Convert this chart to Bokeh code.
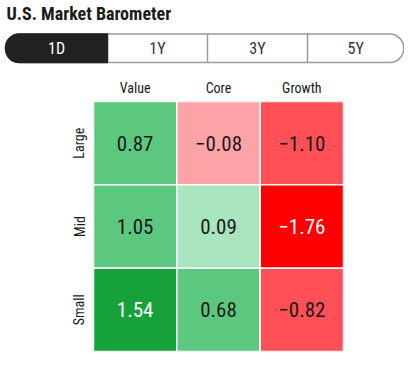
from bokeh.plotting import figure
from bokeh.layouts import column
from bokeh.models import Range1d, FactorRange, ColumnDataSource
from bokeh.core.properties import value
from bokeh.embed import file_html
from bokeh.resources import INLINE

FONT = "'Roboto Condensed', 'Archivo Narrow', Roboto, sans-serif"

title_text = "U.S. Market Barometer"
tabs = ["1D", "1Y", "3Y", "5Y"]
active_tab = "1D"

styles = ["Value", "Core", "Growth"]
sizes = ["Large", "Mid", "Small"]

# values[row][col]
values = [
    [0.87, -0.08, -1.10],
    [1.05, 0.09, -1.76],
    [1.54, 0.68, -0.82],
]
cell_colors = [
    ["#5cc77f", "#fda3a8", "#ff4f57"],
    ["#5cc77f", "#a8e4bd", "#ff0000"],
    ["#17a13a", "#5cc77f", "#ff4f57"],
]
text_colors = [
    ["#1a1a1a", "#1a1a1a", "#1a1a1a"],
    ["#1a1a1a", "#1a1a1a", "#ffffff"],
    ["#ffffff", "#1a1a1a", "#1a1a1a"],
]

W = 404
HH = 70

# ---------- header: title + tab bar ----------
hdr = figure(width=W, height=HH, x_range=Range1d(0, W), y_range=Range1d(HH, 0),
             output_backend="svg", toolbar_location=None, min_border=0)
hdr.axis.visible = False
hdr.grid.visible = False
hdr.outline_line_color = None
hdr.frame_align = False

hdr.text(x=[6], y=[13], text=[title_text], text_font=value(FONT),
         text_font_style="bold", text_font_size="18px", text_color="#1a1a1a",
         text_baseline="middle", text_align="left")

bar_top, bar_bot = 33.5, 62
n = len(tabs)
edges = [5, 107, 207, 307, W - 0.75]
lefts = edges[:-1]
rights = edges[1:]
centers = [(l + r) / 2 for l, r in zip(lefts, rights)]

# outer pill
hdr.quad(left=[edges[0]], right=[edges[-1]], top=[bar_top], bottom=[bar_bot],
         fill_color="white", line_color="#9a9a9a", line_width=1.5,
         border_radius=14)
# active segment
ai = tabs.index(active_tab)
hdr.quad(left=[lefts[ai]], right=[rights[ai]], top=[bar_top], bottom=[bar_bot],
         fill_color="#222222", line_color="#222222", line_width=1.5,
         border_radius=(14, 0, 0, 14))
# dividers
hdr.segment(x0=edges[2:-1], x1=edges[2:-1], y0=[bar_top] * (n - 2), y1=[bar_bot] * (n - 2),
            line_color="#9a9a9a", line_width=1.5)
hdr.text(x=centers, y=[(bar_top + bar_bot) / 2 + 0.5] * n, text=tabs,
         text_color=["white" if t == active_tab else "#333333" for t in tabs],
         text_font=value(FONT), text_font_size="16px",
         text_align="center", text_baseline="middle")

# ---------- heat map ----------
xs, ys, cols, txts, tcols = [], [], [], [], []
for ri, r in enumerate(sizes):
    for ci, c in enumerate(styles):
        xs.append(c)
        ys.append(r)
        cols.append(cell_colors[ri][ci])
        v = values[ri][ci]
        txts.append(("\u2212" if v < 0 else "") + f"{abs(v):.2f}")
        tcols.append(text_colors[ri][ci])
src = ColumnDataSource(dict(x=xs, y=ys, fill=cols, label=txts, tcol=tcols))

hm = figure(width=W, height=289, x_range=FactorRange(*styles),
            y_range=FactorRange(*reversed(sizes)), x_axis_location="above",
            output_backend="svg", toolbar_location=None,
            min_border_left=93, min_border_right=61, min_border_top=31, min_border_bottom=8)
hm.grid.visible = False
hm.outline_line_color = None
hm.frame_align = False
hm.rect(x="x", y="y", width=1, height=1, source=src, fill_color="fill",
        line_color="white", line_width=1.5)
hm.text(x="x", y="y", text="label", source=src, text_color="tcol",
        text_font=value(FONT), text_font_size="21px",
        text_align="center", text_baseline="middle")

for ax in hm.axis:
    ax.axis_line_color = None
    ax.major_tick_line_color = None
    ax.minor_tick_line_color = None
    ax.major_tick_out = 0
    ax.major_tick_in = 0
    ax.major_label_text_font = FONT
    ax.major_label_text_font_size = "14px"
    ax.major_label_text_color = "#1a1a1a"
hm.xaxis.major_label_standoff = 6
hm.yaxis.major_label_standoff = 6
hm.yaxis.major_label_orientation = "vertical"

layout = column(hdr, hm, spacing=0)
open("out.html", "w").write(file_html(layout, INLINE))
